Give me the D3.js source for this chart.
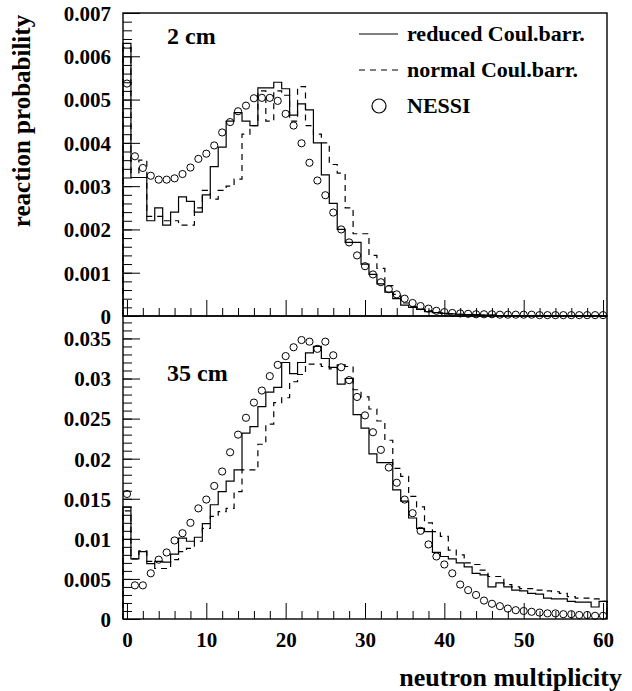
<!DOCTYPE html>
<html>
<head>
<meta charset="utf-8">
<script src="https://cdn.jsdelivr.net/npm/d3@7"></script>
<style>
  html, body { margin: 0; padding: 0; background: #fff; }
  svg { display: block; }
  text { font-family: "Liberation Serif", "Times New Roman", serif; font-weight: bold; fill: #000; }
</style>
</head>
<body>
<svg id="chart" width="632" height="691"></svg>
<script>
// Neutron multiplicity bins 0..60 (bin width 1)
const bins = d3.range(0, 61);

// 2 cm target
const topReduced = [0.0063, 0.0032, 0.0032, 0.0022, 0.0025, 0.0021, 0.0024, 0.00275, 0.00265, 0.0024,
  0.0028, 0.00345, 0.0039, 0.0045, 0.0047, 0.0045, 0.0044, 0.00527, 0.00527, 0.0054,
  0.00525, 0.00464, 0.0049, 0.00476, 0.0040, 0.00326, 0.0026, 0.0020, 0.0017, 0.0017,
  0.0012, 0.00096, 0.00074, 0.00055, 0.0004, 0.00025, 0.0002, 0.00015, 0.0001, 0.00008,
  0.00006, 0.00005, 0.00004, 0.00003, 0.00003, 0.00002, 0.00002, 0.00001, 0.00001, 0.00001,
  0.00001, 0.00001, 0, 0, 0, 0, 0, 0, 0, 0, 0];
const topNormal = [0.0062, 0.0032, 0.0036, 0.0023, 0.0023, 0.0022, 0.0022, 0.0021, 0.0021, 0.0025,
  0.0029, 0.0027, 0.0029, 0.0030, 0.00316, 0.0042, 0.0044, 0.0052, 0.0045, 0.0052,
  0.0051, 0.0045, 0.0053, 0.0044, 0.0042, 0.0040, 0.0035, 0.0033, 0.0025, 0.0019,
  0.0019, 0.0014, 0.0011, 0.0007, 0.0005, 0.0003, 0.00022, 0.00016, 0.00012, 0.00009,
  0.00007, 0.00005, 0.00004, 0.00003, 0.00003, 0.00002, 0.00002, 0.00001, 0.00001, 0.00001,
  0.00001, 0.00001, 0, 0, 0, 0, 0, 0, 0, 0, 0];
const topNessi = [0.00537, 0.00369, 0.00342, 0.00324, 0.00315, 0.00315, 0.00318, 0.00328, 0.00343, 0.00363,
  0.00375, 0.00394, 0.00424, 0.00448, 0.00473, 0.00486, 0.00503, 0.00504, 0.00504, 0.00497,
  0.00467, 0.0044, 0.00399, 0.00354, 0.00313, 0.00279, 0.00239, 0.0020, 0.0017, 0.0014,
  0.00115, 0.00096, 0.00078, 0.00062, 0.0005, 0.0004, 0.0003, 0.00023, 0.00017, 0.00012,
  0.00009, 0.00007, 0.00006, 0.00005, 0.00004, 0.00004, 0.00004, 0.00003, 0.00003, 0.00003,
  0.00003, 0.00003, 0.00002, 0.00002, 0.00002, 0.00002, 0.00002, 0.00002, 0.00002, 0.00002, 0.00002];

// 35 cm target
const botReduced = [0.0140, 0.0075, 0.0084, 0.0069, 0.0072, 0.0071, 0.0081, 0.0101, 0.0097, 0.0102,
  0.0119, 0.01425, 0.0159, 0.0172, 0.0186, 0.0232, 0.0240, 0.0265, 0.0283, 0.0289,
  0.0320, 0.0306, 0.0320, 0.0332, 0.0340, 0.0325, 0.0314, 0.0293, 0.0300, 0.0255,
  0.0238, 0.0206, 0.0195, 0.0195, 0.0161, 0.0147, 0.0126, 0.0113, 0.0109, 0.0083,
  0.0078, 0.0075, 0.0070, 0.0065, 0.0057, 0.0055, 0.0040, 0.0045, 0.0040, 0.0036,
  0.0035, 0.0032, 0.0031, 0.0026, 0.0025, 0.0025, 0.0022, 0.0021, 0.0021, 0.0015, 0.0022];
const botNormal = [0.0135, 0.0075, 0.0085, 0.0072, 0.0063, 0.0063, 0.0074, 0.0084, 0.0088, 0.0097,
  0.0113, 0.0128, 0.0134, 0.0138, 0.0159, 0.0186, 0.0186, 0.0218, 0.0243, 0.0270,
  0.0276, 0.0296, 0.0305, 0.0318, 0.0318, 0.0315, 0.0312, 0.0317, 0.0315, 0.0286,
  0.0277, 0.0262, 0.0247, 0.0223, 0.0188, 0.0178, 0.0153, 0.0140, 0.0120, 0.0109,
  0.0103, 0.0086, 0.0080, 0.0070, 0.0068, 0.0061, 0.0053, 0.0053, 0.0043, 0.0040,
  0.0038, 0.0038, 0.0036, 0.0035, 0.0034, 0.0032, 0.0028, 0.0026, 0.0026, 0.0025, 0.0022];
const botNessi = [0.0156, 0.0042, 0.0042, 0.0057, 0.0074, 0.0083, 0.0098, 0.0107, 0.0120, 0.0138,
  0.0149, 0.0166, 0.0184, 0.0208, 0.0230, 0.0251, 0.0270, 0.0285, 0.0303, 0.0317,
  0.0328, 0.0339, 0.0348, 0.0346, 0.0337, 0.0346, 0.0329, 0.0314, 0.0298, 0.0277,
  0.0254, 0.0233, 0.0211, 0.0189, 0.0170, 0.0149, 0.0132, 0.0110, 0.0093, 0.0078,
  0.0068, 0.0057, 0.0043, 0.0036, 0.0030, 0.0023, 0.0019, 0.0016, 0.0013, 0.0011,
  0.0010, 0.0009, 0.0008, 0.0007, 0.0007, 0.0006, 0.0006, 0.0005, 0.0005, 0.0004, 0.0004];

// Axis ticks and labels
const xMajor = [0, 10, 20, 30, 40, 50, 60];
const xMinor = d3.range(0, 61, 2).filter(v => v % 10 !== 0);
const topYMajor = [0, 0.001, 0.002, 0.003, 0.004, 0.005, 0.006, 0.007];
const topYLabels = ["0", "0.001", "0.002", "0.003", "0.004", "0.005", "0.006", "0.007"];
const topYMinor = d3.range(0, 0.00701, 0.0002);
const botYMajor = [0, 0.005, 0.01, 0.015, 0.02, 0.025, 0.03, 0.035];
const botYLabels = ["0", "0.005", "0.01", "0.015", "0.02", "0.025", "0.03", "0.035"];
const botYMinor = d3.range(0, 0.0375, 0.001);

const legendLabels = ["reduced Coul.barr.", "normal Coul.barr.", "NESSI"];
const panelLabels = ["2 cm", "35 cm"];

const svg = d3.select("#chart");
const L = 123, R = 607;
const x = d3.scaleLinear().domain([-0.5, 60.5]).range([L, R]);

const panels = [
  { y: d3.scaleLinear().domain([0, 0.007]).range([316, 13]), reduced: topReduced, normal: topNormal,
    nessi: topNessi, major: topYMajor, labels: topYLabels, minor: topYMinor, label: panelLabels[0], labelY: 44 },
  { y: d3.scaleLinear().domain([0, 0.0378]).range([619, 316]), reduced: botReduced, normal: botNormal,
    nessi: botNessi, major: botYMajor, labels: botYLabels, minor: botYMinor, label: panelLabels[1], labelY: 381 }
];

// Histogram outline: start and end on the baseline, flat top across each bin
function stepPoints(vals) {
  const pts = [[-0.5, 0]];
  vals.forEach((v, i) => { pts.push([i - 0.5, v]); pts.push([i + 0.5, v]); });
  pts.push([60.5, 0]);
  return pts;
}

const tickFont = 21;

panels.forEach((p, k) => {
  const g = svg.append("g");
  const [y0, y1] = p.y.range();

  // y axis: major ticks with labels, minor ticks, both pointing inward
  g.append("g").attr("transform", `translate(${L},0)`)
    .call(d3.axisLeft(p.y).tickValues(p.minor).tickSize(-9).tickFormat(""))
    .call(a => a.select(".domain").remove())
    .call(a => a.selectAll("line").attr("stroke", "#000").attr("stroke-width", 1));
  g.append("g").attr("transform", `translate(${L},0)`)
    .call(d3.axisLeft(p.y).tickValues(p.major).tickSize(-17).tickPadding(12)
      .tickFormat((d, i) => p.labels[i]))
    .call(a => a.select(".domain").remove())
    .call(a => a.selectAll("line").attr("stroke", "#000").attr("stroke-width", 1))
    .call(a => a.selectAll("text").attr("font-size", tickFont).attr("dy", "0.35em")
      .style("font-family", '"Liberation Serif", serif').style("font-weight", "bold"));

  // x axis ticks pointing up
  g.append("g").attr("transform", `translate(0,${y0})`)
    .call(d3.axisBottom(x).tickValues(xMinor).tickSize(-8).tickFormat(""))
    .call(a => a.select(".domain").remove())
    .call(a => a.selectAll("line").attr("stroke", "#000").attr("stroke-width", 1));
  const xa = g.append("g").attr("transform", `translate(0,${y0})`)
    .call(d3.axisBottom(x).tickValues(xMajor).tickSize(-16).tickPadding(13).tickFormat(d3.format("d")))
    .call(a => a.select(".domain").remove())
    .call(a => a.selectAll("line").attr("stroke", "#000").attr("stroke-width", 1))
    .call(a => a.selectAll("text").attr("font-size", tickFont)
      .style("font-family", '"Liberation Serif", serif').style("font-weight", "bold"));
  if (k === 0) xa.selectAll("text").remove();

  // histograms
  const line = d3.line().x(d => x(d[0])).y(d => p.y(d[1]));
  g.append("path").attr("d", line(stepPoints(p.normal)))
    .attr("fill", "none").attr("stroke", "#000").attr("stroke-width", 1.2).attr("stroke-dasharray", "6,5");
  g.append("path").attr("d", line(stepPoints(p.reduced)))
    .attr("fill", "none").attr("stroke", "#000").attr("stroke-width", 1.2);

  // NESSI points
  g.selectAll("circle.pt").data(p.nessi).join("circle").attr("class", "pt")
    .attr("cx", (d, i) => x(bins[i])).attr("cy", d => p.y(d)).attr("r", 3.6)
    .attr("fill", "none").attr("stroke", "#000").attr("stroke-width", 1);

  // frame
  g.append("rect").attr("x", L).attr("y", y1).attr("width", R - L).attr("height", y0 - y1)
    .attr("fill", "none").attr("stroke", "#000").attr("stroke-width", 1.4);

  g.append("text").attr("x", 167).attr("y", p.labelY).attr("font-size", 24).text(p.label);
});

// legend
const lg = svg.append("g");
lg.append("line").attr("x1", 359).attr("x2", 398).attr("y1", 34).attr("y2", 34)
  .attr("stroke", "#000").attr("stroke-width", 1.2);
lg.append("line").attr("x1", 359).attr("x2", 398).attr("y1", 70).attr("y2", 70)
  .attr("stroke", "#000").attr("stroke-width", 1.2).attr("stroke-dasharray", "6,5");
lg.append("circle").attr("cx", 379).attr("cy", 106).attr("r", 7)
  .attr("fill", "none").attr("stroke", "#000").attr("stroke-width", 1.2);
[41, 77, 113].forEach((yy, i) => {
  lg.append("text").attr("x", 407).attr("y", yy).attr("font-size", 22).text(legendLabels[i]);
});

// axis titles
svg.append("text").attr("transform", "translate(30,121) rotate(-90)")
  .attr("text-anchor", "middle").attr("font-size", 25).text("reaction probability");
svg.append("text").attr("x", 622).attr("y", 686).attr("text-anchor", "end")
  .attr("font-size", 26).text("neutron multiplicity");
</script>
</body>
</html>
